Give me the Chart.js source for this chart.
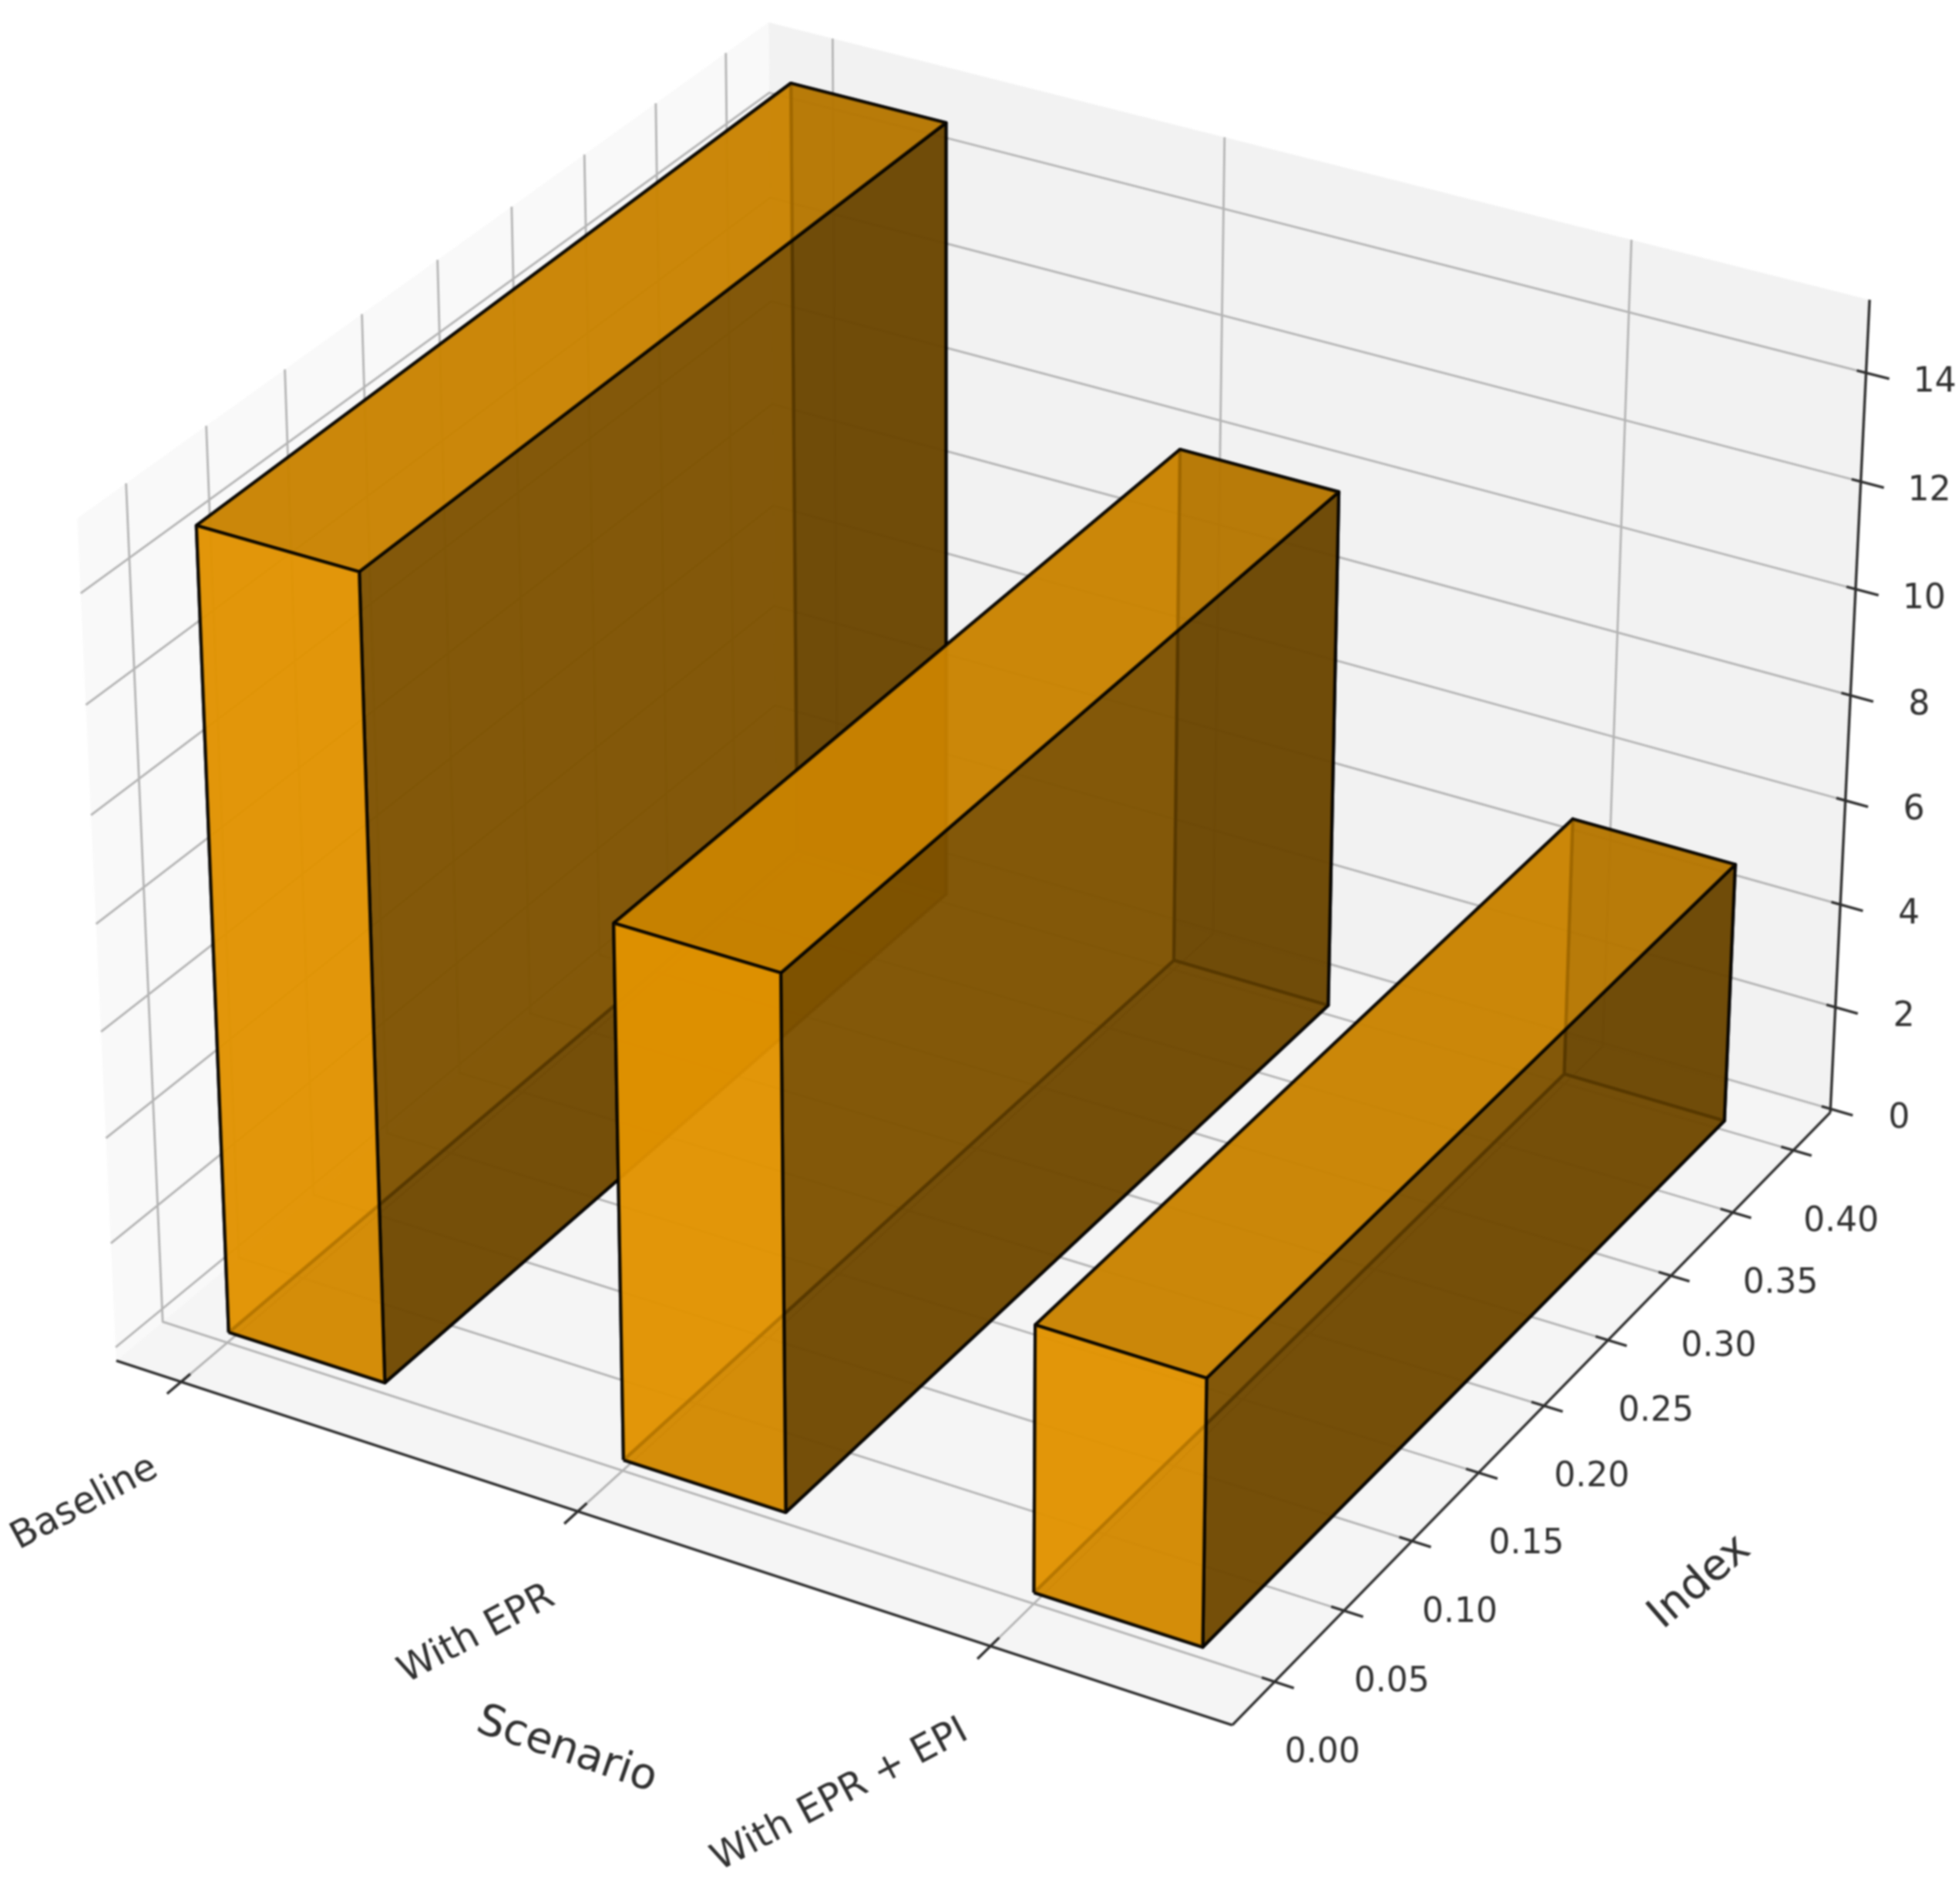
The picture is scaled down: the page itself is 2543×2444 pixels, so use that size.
<!DOCTYPE html>
<html>
<head>
<meta charset="utf-8">
<title>Scenario chart</title>
<script src="https://cdn.jsdelivr.net/npm/chart.js@4"></script>
<style>
  html, body { margin: 0; padding: 0; background: #fff; }
  #wrap { width: 2543px; height: 2444px; }
  canvas { filter: blur(1.1px); }
</style>
</head>
<body>
<div id="wrap"><canvas id="myChart" width="2543" height="2444"></canvas></div>
<script>
const categories = ['Baseline', 'With EPR', 'With EPR + EPI'];
const barValues = [15, 10, 5];
const barStarts = [0, 1, 2];
const barWidth = 0.4;
const barDepth = 0.4;
const indexTicks = [0, 0.05, 0.1, 0.15, 0.2, 0.25, 0.3, 0.35, 0.4];
const indexTickLabels = ['0.00', '0.05', '0.10', '0.15', '0.20', '0.25', '0.30', '0.35', '0.40'];
const valueTicks = [0, 2, 4, 6, 8, 10, 12, 14];

const xLim = [-0.147, 2.588];
const yLim = [-0.036, 0.425];
const zLim = [0, 15.4];

// ticks and grid sit a touch off the bars in the picture
const shiftX = 0.02, shiftY = -0.006, shiftZ = 0.07;
// the far left wall rises slightly more than the camera gives
const leftRise = 0.19;

// 3x4 camera: data (x, y, z) to chart units
const camera = [
  [496.76011, 2041.0207, -3.5273307, 296.74982],
  [129.41050, -1351.9302, -71.730578, 1728.3489],
  [-0.019088157, 0.19062712, -0.0028623234, 1]
];

function depth(p) {
  return camera[2][0] * p[0] + camera[2][1] * p[1] + camera[2][2] * p[2] + camera[2][3];
}
function project(p) {
  const w = depth(p);
  return {
    x: (camera[0][0] * p[0] + camera[0][1] * p[1] + camera[0][2] * p[2] + camera[0][3]) / w,
    y: (camera[1][0] * p[0] + camera[1][1] * p[1] + camera[1][2] * p[2] + camera[1][3]) / w
  };
}

const datasets = [];
let drawOrder = 0;
function addShape(points, stroke, lineWidth, fillColor) {
  const closed = fillColor ? points.concat([points[0]]) : points;
  datasets.push({
    data: closed.map(project),
    showLine: true,
    pointRadius: 0,
    tension: 0,
    clip: false,
    borderColor: stroke,
    borderWidth: lineWidth,
    borderJoinStyle: 'round',
    backgroundColor: fillColor || 'transparent',
    fill: fillColor ? 'shape' : false,
    order: -(drawOrder++)
  });
}

const [x0, x1] = xLim, [y0, y1] = yLim, [z0, z1] = zLim;
// panes
addShape([[x0, y0, z0], [x0, y1, z0], [x0, y1, z1], [x0, y0, z1 + leftRise]], 'transparent', 0, '#f9f9f9');
addShape([[x0, y1, z0], [x1, y1, z0], [x1, y1, z1], [x0, y1, z1]], 'transparent', 0, '#f2f2f2');
addShape([[x0, y0, z0], [x1, y0, z0], [x1, y1, z0], [x0, y1, z0]], 'transparent', 0, '#f5f5f5');

// grid
const gridColor = '#b4b4b4', gridWidth = 2.8;
barStarts.forEach(s => {
  const x = s + shiftX;
  addShape([[x, y0, z0], [x, y1, z0], [x, y1, z1]], gridColor, gridWidth);
});
indexTicks.forEach(t => {
  const y = t + shiftY;
  addShape([[x1, y, z0], [x0, y, z0], [x0, y, z1 + leftRise * (y1 - y) / (y1 - y0)]], gridColor, gridWidth);
});
valueTicks.forEach(t => {
  const z = t + shiftZ;
  addShape([[x0, y0, z + leftRise], [x0, y1, z], [x1, y1, z]], gridColor, gridWidth);
});

// axis lines and ticks
const axisColor = '#2e2e2e', axisWidth = 3.4;
addShape([[x0, y0, z0], [x1, y0, z0]], axisColor, axisWidth);
addShape([[x1, y0, z0], [x1, y1, z0]], axisColor, axisWidth);
addShape([[x1, y1, z0], [x1, y1, z1]], axisColor, axisWidth);
barStarts.forEach(s => addShape([[s + shiftX, y0 + 0.006, z0], [s + shiftX, y0 - 0.009, z0]], axisColor, axisWidth));
indexTicks.forEach(t => addShape([[x1 - 0.03, t + shiftY, z0], [x1 + 0.045, t + shiftY, z0]], axisColor, axisWidth));
valueTicks.forEach(t => addShape([[x1 - 0.022, y1, t + shiftZ], [x1 + 0.055, y1, t + shiftZ]], axisColor, axisWidth));

// bars: six faces each, painted far to near as a 3D renderer would
function shadeColor(k) {
  return 'rgba(' + Math.round(255 * k) + ',' + Math.round(165 * k) + ',0,0.8)';
}
const faces = [];
categories.forEach((name, i) => {
  const a = barStarts[i], b = a + barWidth, h = barValues[i];
  const yA = 0, yB = barDepth;
  faces.push({ pts: [[a, yA, 0], [b, yA, 0], [b, yB, 0], [a, yB, 0]], shade: 0.533 });
  faces.push({ pts: [[a, yA, h], [b, yA, h], [b, yB, h], [a, yB, h]], shade: 0.767 });
  faces.push({ pts: [[a, yA, 0], [b, yA, 0], [b, yA, h], [a, yA, h]], shade: 0.883 });
  faces.push({ pts: [[a, yB, 0], [b, yB, 0], [b, yB, h], [a, yB, h]], shade: 0.417 });
  faces.push({ pts: [[a, yA, 0], [a, yB, 0], [a, yB, h], [a, yA, h]], shade: 0.883 });
  faces.push({ pts: [[b, yA, 0], [b, yB, 0], [b, yB, h], [b, yA, h]], shade: 0.417 });
});
faces.forEach(f => { f.d = f.pts.reduce((s, p) => s + depth(p), 0) / 4; });
faces.sort((p, q) => q.d - p.d);
faces.forEach(f => addShape(f.pts, 'rgba(0,0,0,0.85)', 4.2, shadeColor(f.shade)));

const textColor = '#303030';
const textFont = '"DejaVu Sans"';

const textPlugin = {
  id: 'axisText',
  afterDatasetsDraw(chart) {
    const { ctx, scales } = chart;
    function put(text, px, py, angle, size) {
      ctx.save();
      ctx.translate(scales.x.getPixelForValue(px), scales.y.getPixelForValue(py));
      ctx.rotate(angle * Math.PI / 180);
      ctx.font = size + 'px ' + textFont;
      ctx.fillStyle = textColor;
      ctx.textAlign = 'center';
      ctx.textBaseline = 'middle';
      ctx.fillText(text, 0, 0);
      ctx.restore();
    }
    // category labels hang off their ticks
    categories.forEach((name, i) => {
      const p = project([barStarts[i] + shiftX, y0, z0]);
      const off = [[-125, 158], [-131, 160], [-195, 194]][i];
      put(name, p.x + off[0], p.y + off[1], -28, 49);
    });
    indexTicks.forEach((t, i) => {
      const p = project([x1, t + shiftY, z0]);
      put(indexTickLabels[i], p.x + 62, p.y + 93, 0, 44);
    });
    valueTicks.forEach(t => {
      const p = project([x1, y1, t + shiftZ]);
      put(String(t), p.x + 89, p.y + 13, 0, 44);
    });
    put('Scenario', 735, 2271, 19, 56);
    put('Index', 2206, 2053, -41, 56);
  }
};

new Chart(document.getElementById('myChart'), {
  type: 'scatter',
  data: { datasets: datasets },
  options: {
    responsive: false,
    animation: false,
    events: [],
    layout: { padding: 0 },
    plugins: { legend: { display: false }, tooltip: { enabled: false }, title: { display: false } },
    scales: {
      x: { display: false, min: 0, max: 2543 },
      y: { display: false, min: 0, max: 2444, reverse: true }
    }
  },
  plugins: [textPlugin]
});
</script>
</body>
</html>
